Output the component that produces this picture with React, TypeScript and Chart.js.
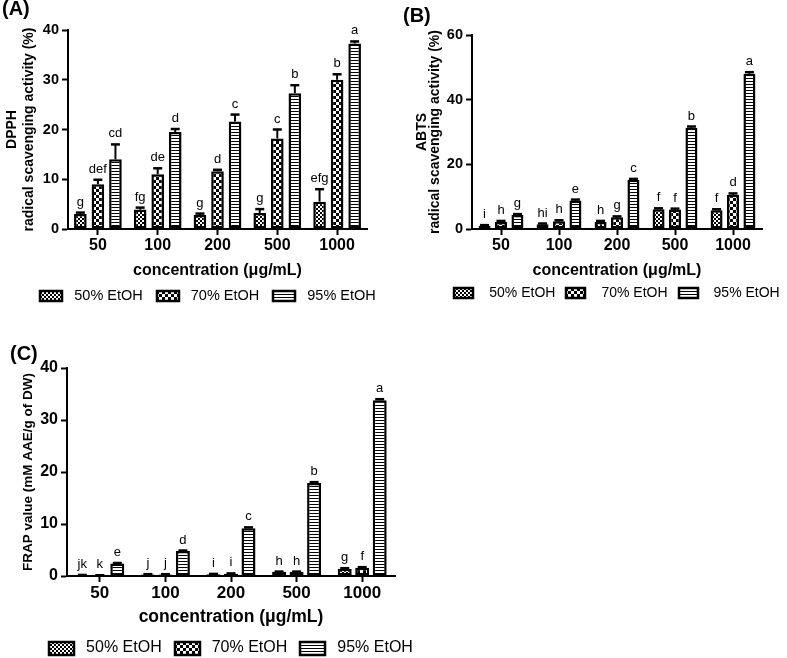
import React, { useEffect, useRef } from 'react';
import { Chart, registerables } from 'chart.js';

Chart.register(...registerables);

const FONT = "'Liberation Sans', Arial, Helvetica, sans-serif";

// ---------- data ----------
const categories = ['50', '100', '200', '500', '1000'];
const seriesLabels = ['50% EtOH', '70% EtOH', '95% EtOH'];

// (A) DPPH
const dpph50 = [3.0, 3.9, 2.8, 3.2, 5.5];
const dpph70 = [9.0, 11.0, 11.6, 18.2, 30.0];
const dpph95 = [14.0, 19.5, 21.6, 27.3, 37.3];
const dpph50Err = [0.3, 0.4, 0.3, 0.8, 2.5];
const dpph70Err = [0.9, 1.2, 0.3, 1.8, 1.1];
const dpph95Err = [3.0, 0.6, 1.4, 1.6, 0.4];
const dpph50Letters = ['g', 'fg', 'g', 'g', 'efg'];
const dpph70Letters = ['def', 'de', 'd', 'c', 'b'];
const dpph95Letters = ['cd', 'd', 'c', 'b', 'a'];

// (B) ABTS
const abts50 = [1.0, 1.5, 2.2, 6.1, 5.8];
const abts70 = [2.2, 2.4, 3.6, 6.0, 10.6];
const abts95 = [4.3, 8.8, 15.2, 31.3, 48.0];
const abts50Err = [0.2, 0.2, 0.3, 0.3, 0.3];
const abts70Err = [0.3, 0.3, 0.3, 0.3, 0.4];
const abts95Err = [0.3, 0.3, 0.3, 0.4, 0.5];
const abts50Letters = ['i', 'hi', 'h', 'f', 'f'];
const abts70Letters = ['h', 'h', 'g', 'f', 'd'];
const abts95Letters = ['g', 'e', 'c', 'b', 'a'];

// (C) FRAP
const frap50 = [0.15, 0.3, 0.35, 0.8, 1.4];
const frap70 = [0.1, 0.3, 0.45, 0.8, 1.6];
const frap95 = [2.4, 4.8, 9.2, 17.9, 33.8];
const frap50Err = [0.05, 0.05, 0.05, 0.05, 0.1];
const frap70Err = [0.05, 0.05, 0.05, 0.05, 0.1];
const frap95Err = [0.1, 0.1, 0.15, 0.15, 0.2];
const frap50Letters = ['jk', 'j', 'i', 'h', 'g'];
const frap70Letters = ['k', 'j', 'i', 'h', 'f'];
const frap95Letters = ['e', 'd', 'c', 'b', 'a'];

// ---------- patterns ----------
function makePattern(kind: number): CanvasPattern | string {
  const c = document.createElement('canvas');
  const ctx = c.getContext('2d');
  if (!ctx) return '#888';
  if (kind === 0) {
    c.width = 4; c.height = 4;
    ctx.fillStyle = '#fff'; ctx.fillRect(0, 0, 4, 4);
    ctx.fillStyle = '#000'; ctx.fillRect(0, 0, 2, 2); ctx.fillRect(2, 2, 2, 2);
  } else if (kind === 1) {
    c.width = 6; c.height = 6;
    ctx.fillStyle = '#000'; ctx.fillRect(0, 0, 6, 6);
    ctx.fillStyle = '#fff'; ctx.fillRect(0, 0, 3, 3); ctx.fillRect(3, 3, 3, 3);
  } else {
    c.width = 3; c.height = 3;
    ctx.fillStyle = '#fff'; ctx.fillRect(0, 0, 3, 3);
    ctx.fillStyle = '#000'; ctx.fillRect(0, 0, 3, 1);
  }
  return ctx.createPattern(c, 'repeat') || '#888';
}

// ---------- plugins ----------
const annotPlugin = {
  id: 'annot',
  afterDatasetsDraw(chart: any, _args: any, opts: any) {
    const ctx = chart.ctx;
    const ys = chart.scales.y;
    chart.data.datasets.forEach((ds: any, i: number) => {
      const meta = chart.getDatasetMeta(i);
      meta.data.forEach((bar: any, j: number) => {
        const v = ds.data[j];
        const e = ds.errors[j];
        const yTop = ys.getPixelForValue(v + e);
        const yBar = ys.getPixelForValue(v);
        ctx.save();
        ctx.strokeStyle = '#000';
        ctx.lineWidth = 2;
        ctx.beginPath();
        ctx.moveTo(bar.x, yBar);
        ctx.lineTo(bar.x, yTop);
        ctx.stroke();
        ctx.lineWidth = 2.5;
        ctx.beginPath();
        ctx.moveTo(bar.x - opts.cap, yTop);
        ctx.lineTo(bar.x + opts.cap, yTop);
        ctx.stroke();
        ctx.fillStyle = '#000';
        ctx.font = `${opts.letterSize}px ${FONT}`;
        ctx.textAlign = 'center';
        ctx.textBaseline = 'alphabetic';
        ctx.fillText(ds.letters[j], bar.x, yTop - opts.letterGap);
        ctx.restore();
      });
    });
  },
};

const legendPlugin = {
  id: 'patLegend',
  afterDraw(chart: any, _args: any, opts: any) {
    const ctx = chart.ctx;
    ctx.save();
    ctx.font = `${opts.fontSize}px ${FONT}`;
    const items = chart.data.datasets.map((ds: any) => ({
      label: ds.label,
      fill: ds.backgroundColor,
      w: ctx.measureText(ds.label).width,
    }));
    const total =
      items.reduce((s: number, it: any) => s + opts.boxW + opts.gap + it.w, 0) +
      opts.itemGap * (items.length - 1);
    let x = opts.centerX - total / 2;
    items.forEach((it: any) => {
      const bx = Math.round(x);
      const by = Math.round(opts.y - opts.boxH / 2);
      ctx.fillStyle = it.fill;
      ctx.fillRect(bx, by, opts.boxW, opts.boxH);
      ctx.lineWidth = 2.5;
      ctx.strokeStyle = '#000';
      ctx.strokeRect(bx, by, opts.boxW, opts.boxH);
      ctx.fillStyle = '#000';
      ctx.textAlign = 'left';
      ctx.textBaseline = 'middle';
      ctx.fillText(it.label, x + opts.boxW + opts.gap, opts.y);
      x += opts.boxW + opts.gap + it.w + opts.itemGap;
    });
    ctx.restore();
  },
};

// ---------- panel ----------
type Series = { values: number[]; errors: number[]; letters: string[] };

type PanelProps = {
  x: number; y: number; w: number; h: number;
  series: Series[];
  yMax: number; yStep: number;
  yTitle: string | string[];
  yTitleSize: number; yTitleLH: number; yTitlePad: number;
  yTickSize: number; xTickSize: number; xTitleSize: number;
  yAxisW: number; xAxisH: number;
  pad: { top: number; right: number; bottom: number };
  catPct: number; barPct: number;
  legend: any;
};

function Panel(p: PanelProps) {
  const ref = useRef<HTMLCanvasElement>(null);
  useEffect(() => {
    const canvas = ref.current;
    if (!canvas) return;
    const pats = [makePattern(0), makePattern(1), makePattern(2)];
    const chart = new Chart(canvas, {
      type: 'bar',
      data: {
        labels: categories,
        datasets: p.series.map((s, i) => ({
          label: seriesLabels[i],
          data: s.values,
          errors: s.errors,
          letters: s.letters,
          backgroundColor: pats[i],
          borderColor: '#000',
          borderWidth: 2.5,
          borderSkipped: false,
          categoryPercentage: p.catPct,
          barPercentage: p.barPct,
        })) as any,
      },
      options: {
        responsive: false,
        animation: false,
        events: [],
        layout: { padding: { left: 0, top: p.pad.top, right: p.pad.right, bottom: p.pad.bottom } },
        plugins: {
          legend: { display: false },
          tooltip: { enabled: false },
          annot: { cap: 4.5, letterSize: 13, letterGap: 7 },
          patLegend: p.legend,
        } as any,
        scales: {
          x: {
            grid: {
              display: true, drawOnChartArea: false, drawTicks: true,
              tickLength: 6, tickWidth: 2, tickColor: '#000', offset: false,
            },
            border: { display: true, color: '#000', width: 2 },
            ticks: {
              color: '#000', padding: 1,
              font: { family: FONT, size: p.xTickSize, weight: 'bold' },
            },
            title: {
              display: true, text: 'concentration (\u03bcg/mL)', color: '#000',
              padding: { top: 0, bottom: 0 },
              font: { family: FONT, size: p.xTitleSize, weight: 'bold' },
            },
            afterFit: (scale: any) => {
              scale.height = p.xAxisH;
              scale.paddingLeft = 0; scale.paddingRight = 0;
            },
          },
          y: {
            min: 0, max: p.yMax,
            grid: {
              display: true, drawOnChartArea: false, drawTicks: true,
              tickLength: 6, tickWidth: 2, tickColor: '#000',
            },
            border: { display: true, color: '#000', width: 2 },
            ticks: {
              stepSize: p.yStep, color: '#000', padding: 3,
              font: { family: FONT, size: p.yTickSize, weight: 'bold' },
            },
            title: {
              display: true, text: p.yTitle, color: '#000',
              padding: { top: p.yTitlePad, bottom: 0 },
              font: { family: FONT, size: p.yTitleSize, weight: 'bold', lineHeight: p.yTitleLH },
            },
            afterFit: (scale: any) => {
              scale.width = p.yAxisW;
              scale.paddingTop = 0; scale.paddingBottom = 0;
            },
          },
        } as any,
      },
      plugins: [annotPlugin, legendPlugin] as any,
    });
    return () => chart.destroy();
  }, []);
  return (
    <canvas
      ref={ref}
      width={p.w}
      height={p.h}
      style={{ position: 'absolute', left: p.x, top: p.y, width: p.w, height: p.h }}
    />
  );
}

const labelStyle = (left: number, top: number): React.CSSProperties => ({
  position: 'absolute', left, top, fontFamily: FONT, fontWeight: 'bold',
  fontSize: 20, lineHeight: '20px', color: '#000', whiteSpace: 'nowrap',
});

export default function App() {
  return (
    <div style={{ position: 'fixed', left: 0, top: 0, width: 787, height: 658, background: '#fff', overflow: 'hidden' }}>
      <Panel
        x={0} y={0} w={395} h={315}
        series={[
          { values: dpph50, errors: dpph50Err, letters: dpph50Letters },
          { values: dpph70, errors: dpph70Err, letters: dpph70Letters },
          { values: dpph95, errors: dpph95Err, letters: dpph95Letters },
        ]}
        yMax={40} yStep={10}
        yTitle={['DPPH', 'radical scavenging activity (%)']}
        yTitleSize={14} yTitleLH={1.2} yTitlePad={4}
        yTickSize={14.5} xTickSize={16} xTitleSize={16}
        yAxisW={68} xAxisH={51}
        pad={{ top: 30, right: 28, bottom: 35 }}
        catPct={0.88} barPct={0.72}
        legend={{ centerX: 208, y: 296, boxW: 22, boxH: 10, gap: 12, itemGap: 14, fontSize: 14.5 }}
      />
      <Panel
        x={400} y={0} w={387} h={315}
        series={[
          { values: abts50, errors: abts50Err, letters: abts50Letters },
          { values: abts70, errors: abts70Err, letters: abts70Letters },
          { values: abts95, errors: abts95Err, letters: abts95Letters },
        ]}
        yMax={60} yStep={20}
        yTitle={['ABTS', 'radical scavenging activity (%)']}
        yTitleSize={14} yTitleLH={0.93} yTitlePad={15.5}
        yTickSize={14.5} xTickSize={16} xTitleSize={16}
        yAxisW={72} xAxisH={51}
        pad={{ top: 35, right: 25, bottom: 35 }}
        catPct={0.85} barPct={0.73}
        legend={{ centerX: 217, y: 293, boxW: 19, boxH: 10, gap: 16, itemGap: 11, fontSize: 14 }}
      />
      <Panel
        x={0} y={330} w={420} h={328}
        series={[
          { values: frap50, errors: frap50Err, letters: frap50Letters },
          { values: frap70, errors: frap70Err, letters: frap70Letters },
          { values: frap95, errors: frap95Err, letters: frap95Letters },
        ]}
        yMax={40} yStep={10}
        yTitle={'FRAP value (mM AAE/g of DW)'}
        yTitleSize={13.5} yTitleLH={1.2} yTitlePad={20}
        yTickSize={16} xTickSize={17} xTitleSize={17.5}
        yAxisW={67} xAxisH={51.5}
        pad={{ top: 38, right: 25, bottom: 30.5 }}
        catPct={0.8} barPct={0.8}
        legend={{ centerX: 231, y: 318, boxW: 25, boxH: 13, gap: 12, itemGap: 13, fontSize: 16 }}
      />
      <div style={labelStyle(2, -2)}>(A)</div>
      <div style={labelStyle(403, 5)}>(B)</div>
      <div style={labelStyle(10, 343)}>(C)</div>
    </div>
  );
}
